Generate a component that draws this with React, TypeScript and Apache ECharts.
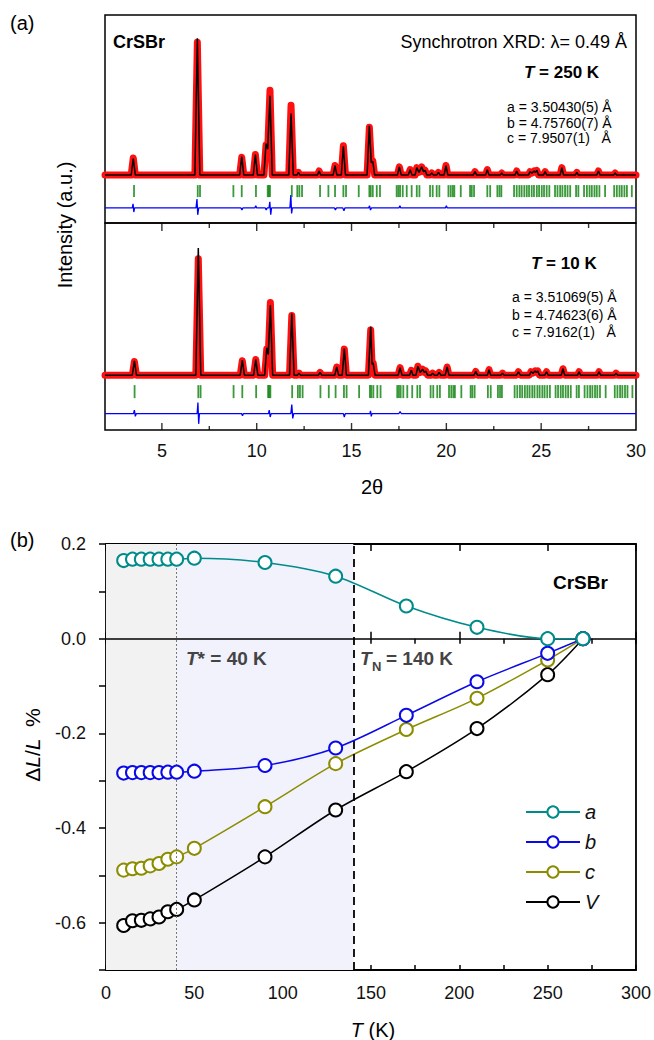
import React, { useEffect, useRef } from 'react';
import * as echarts from 'echarts';

const FONT = "'Liberation Sans', Arial, Helvetica, sans-serif";

// ---------- Panel (a): XRD profiles ----------
// 250 K profile vertices (2θ) with observed / calculated intensities (a.u.)
const x250 = [2,
  3.38, 3.49, 3.6,
  6.74, 6.87, 7.0,
  9.1, 9.21, 9.32,
  9.82, 9.93, 10.04,
  10.38, 10.49, 10.58, 10.70, 10.82,
  11.69, 11.81, 11.93,
  12.12, 12.2, 12.28,
  13.2, 13.29, 13.38,
  14.03, 14.13, 14.23,
  14.46, 14.57, 14.68,
  15.82, 15.94, 16.04, 16.12, 16.22,
  17.42, 17.52, 17.62,
  17.99, 18.09, 18.19,
  18.35, 18.44, 18.56, 18.70, 18.80, 18.88, 18.97,
  19.14, 19.23, 19.32,
  19.49, 19.58, 19.67,
  19.88, 19.98, 20.08,
  21.42, 21.51, 21.6,
  22.07, 22.16, 22.25,
  22.84, 22.92, 23.0,
  23.62, 23.71, 23.8,
  24.33, 24.41, 24.52, 24.63, 24.70, 24.77, 24.86,
  25.12, 25.21, 25.3,
  26.0, 26.09, 26.18,
  26.8, 26.88, 26.96,
  27.93, 28.02, 28.11,
  28.82, 28.90, 28.98,
  30];
const obs250 = [0,
  0, 12.5, 0,
  0, 97, 0,
  0, 13, 0,
  0, 15, 0,
  0, 22, 19, 62, 0,
  0, 51, 0,
  0, 2, 0,
  0, 3, 0,
  0, 7, 0,
  0, 21.5, 0,
  0, 35, 9, 10.5, 0,
  0, 6, 0,
  0, 4, 0,
  0, 5.5, 2, 6, 2.5, 3.5, 0,
  0, 1.5, 0,
  0, 2, 0,
  0, 7, 0,
  0, 2.5, 0,
  0, 4, 0,
  0, 1.5, 0,
  0, 3, 0,
  0, 2.5, 1.5, 3, 2, 3.5, 0,
  0, 2.5, 0,
  0, 5.5, 0,
  0, 2, 0,
  0, 3, 0,
  0, 1.5, 0,
  0];
const calc250 = [0,
  0, 12, 0,
  0, 100, 0,
  0, 13.5, 0,
  0, 15, 0,
  0, 23, 19, 58, 0,
  0, 45, 0,
  0, 2, 0,
  0, 3, 0,
  0, 7, 0,
  0, 21, 0,
  0, 36, 9, 10, 0,
  0, 6, 0,
  0, 4, 0,
  0, 5.5, 2, 6, 2.5, 3.5, 0,
  0, 1.5, 0,
  0, 2, 0,
  0, 7, 0,
  0, 2.5, 0,
  0, 4, 0,
  0, 1.5, 0,
  0, 3, 0,
  0, 2.5, 1.5, 3, 2, 3.5, 0,
  0, 2.5, 0,
  0, 5.5, 0,
  0, 2, 0,
  0, 3, 0,
  0, 1.5, 0,
  0];
const diffX250 = [2,
  3.44, 3.48, 3.52, 3.56,
  6.80, 6.85, 6.89, 6.94,
  9.17, 9.22, 9.27,
  9.9, 9.95, 10.0,
  10.45, 10.5, 10.55,
  10.65, 10.69, 10.74, 10.78,
  11.75, 11.80, 11.84, 11.88,
  14.1, 14.15, 14.2,
  14.54, 14.6, 14.65,
  15.9, 15.95, 16.0, 16.05,
  17.5, 17.55, 17.6,
  19.95, 20.0, 20.05,
  30];
const diffY250 = [-24,
  -24, -21, -27, -24,
  -24, -17.5, -29, -24,
  -24, -25.5, -24,
  -24, -22.5, -24,
  -24, -25.5, -24,
  -24, -19.5, -29, -24,
  -24, -14.5, -28, -24,
  -24, -25.5, -24,
  -24, -26, -24,
  -24, -22.5, -25.5, -24,
  -24, -22.5, -24,
  -24, -22.5, -24,
  -24];
const bragg250 = [3.53, 6.89, 7.01, 8.77, 9.21, 9.96, 10.58, 10.64, 10.70, 11.85, 12.14, 12.25, 12.39,
  13.34, 13.78, 14.13, 14.57, 14.71, 15.38, 15.94, 16.01, 16.12, 16.33, 16.50, 17.38, 17.47, 17.56,
  17.70, 17.91, 18.17, 18.44, 18.58, 19.14, 19.28, 19.49, 19.63, 20.11, 20.23, 20.34, 20.42, 20.76,
  21.25, 21.34, 21.46, 22.16, 22.31, 22.69, 22.80, 22.90, 23.57, 23.71, 23.85, 23.97, 24.11, 24.24,
  24.36, 24.50, 24.62, 24.77, 24.89, 25.03, 25.15, 25.29, 25.43, 25.73, 25.86, 26.00, 26.12, 26.26,
  26.39, 26.53, 26.84, 26.96, 27.26, 27.41, 27.55, 27.67, 27.81, 27.93, 28.07, 28.37, 28.85, 28.99,
  29.13, 29.25, 29.39, 29.52, 29.78];

// 10 K profile
const x10 = [2,
  3.44, 3.55, 3.66,
  6.79, 6.92, 7.05,
  9.13, 9.24, 9.35,
  9.84, 9.95, 10.06,
  10.42, 10.53, 10.61, 10.72, 10.84,
  11.73, 11.85, 11.97,
  12.15, 12.23, 12.31,
  13.25, 13.34, 13.43,
  14.12, 14.22, 14.32,
  14.51, 14.62, 14.73,
  15.89, 16.01, 16.08, 16.14, 16.24,
  17.46, 17.56, 17.66,
  18.06, 18.15, 18.24,
  18.40, 18.50, 18.62, 18.75, 18.84, 18.92, 19.01,
  19.19, 19.28, 19.37,
  19.53, 19.62, 19.71,
  19.94, 20.04, 20.14,
  21.46, 21.55, 21.64,
  22.16, 22.25, 22.34,
  22.88, 22.96, 23.04,
  23.7, 23.8, 23.9,
  24.38, 24.46, 24.57, 24.68, 24.75, 24.82, 24.91,
  25.19, 25.28, 25.37,
  26.06, 26.15, 26.24,
  26.92, 27.0, 27.08,
  27.96, 28.05, 28.14,
  28.86, 28.95, 29.03,
  30];
const obs10 = [0,
  0, 10, 0,
  0, 85, 0,
  0, 10.5, 0,
  0, 11.5, 0,
  0, 19, 15, 53, 0,
  0, 43.5, 0,
  0, 1.5, 0,
  0, 2, 0,
  0, 6, 0,
  0, 19, 0,
  0, 33, 8, 9, 0,
  0, 5.5, 0,
  0, 3.5, 0,
  0, 6.5, 2, 4.3, 2, 3, 0,
  0, 1.5, 0,
  0, 2, 0,
  0, 6, 0,
  0, 2.8, 0,
  0, 4, 0,
  0, 1.5, 0,
  0, 2.5, 0,
  0, 2.5, 1.5, 3, 2, 3, 0,
  0, 2.5, 0,
  0, 4.7, 0,
  0, 2.5, 0,
  0, 2.5, 0,
  0, 1.5, 0,
  0];
const calc10 = [0,
  0, 10.5, 0,
  0, 92.7, 0,
  0, 11, 0,
  0, 11.5, 0,
  0, 20, 15, 51, 0,
  0, 45, 0,
  0, 1.5, 0,
  0, 2, 0,
  0, 6, 0,
  0, 19.5, 0,
  0, 35.5, 8, 9, 0,
  0, 5.5, 0,
  0, 3.5, 0,
  0, 6.5, 2, 4.3, 2, 3, 0,
  0, 1.5, 0,
  0, 2, 0,
  0, 6, 0,
  0, 2.8, 0,
  0, 4, 0,
  0, 1.5, 0,
  0, 2.5, 0,
  0, 2.5, 1.5, 3, 2, 3, 0,
  0, 2.5, 0,
  0, 4.7, 0,
  0, 2.5, 0,
  0, 2.5, 0,
  0, 1.5, 0,
  0];
const diffX10 = [2,
  3.5, 3.55, 3.6, 3.65,
  6.86, 6.9, 6.94, 6.98,
  9.2, 9.25, 9.3,
  10.62, 10.66, 10.71, 10.76,
  11.8, 11.85, 11.9, 11.95,
  14.57, 14.62, 14.67,
  15.97, 16.0, 16.04, 16.08,
  17.5, 17.56, 17.62,
  30];
const diffY10 = [-28,
  -28, -25.5, -30, -28,
  -28, -20, -35.5, -28,
  -28, -29.5, -28,
  -28, -25.5, -30.5, -28,
  -28, -21.5, -31.5, -28,
  -28, -30.5, -28,
  -28, -26, -30, -28,
  -28, -26.5, -28,
  -28];
const bragg10 = [3.56, 6.92, 7.04, 8.78, 9.24, 9.97, 10.6, 10.66, 10.72, 11.87, 12.17, 12.28, 12.42,
  13.36, 13.8, 14.16, 14.6, 14.74, 15.4, 15.97, 16.04, 16.15, 16.36, 16.53, 17.41, 17.5, 17.59,
  17.73, 17.94, 18.2, 18.47, 18.61, 19.17, 19.31, 19.52, 19.66, 20.14, 20.26, 20.37, 20.45, 20.79,
  21.28, 21.37, 21.49, 22.19, 22.34, 22.72, 22.83, 22.93, 23.6, 23.74, 23.88, 24.0, 24.14, 24.27,
  24.39, 24.53, 24.65, 24.8, 24.92, 25.06, 25.18, 25.32, 25.46, 25.76, 25.89, 26.03, 26.15, 26.29,
  26.42, 26.56, 26.87, 26.99, 27.29, 27.44, 27.58, 27.7, 27.84, 27.96, 28.1, 28.4, 28.88, 29.02,
  29.16, 29.28, 29.42, 29.55, 29.81];

// 2θ axis tick values
const xMajorA = [5, 10, 15, 20, 25];
const xMinorA = [7.5, 12.5, 17.5, 22.5, 27.5];
const xLabelsA = ['5', '10', '15', '20', '25', '30'];
// label slots along 2θ = 2 … 30 (every 0.5°), used only to place the tick labels
const labelSlotsA = Array.from({ length: 57 }, (_, i) => String(2 + i * 0.5));

// ---------- Panel (b): thermal expansion ----------
const temps = [10, 15, 20, 25, 30, 35, 40, 50, 90, 130, 170, 210, 250, 270];
const aVals = [0.165, 0.168, 0.168, 0.168, 0.168, 0.168, 0.168, 0.170, 0.161, 0.132, 0.069, 0.024, 0.0, 0.0];
const bVals = [-0.284, -0.283, -0.283, -0.283, -0.283, -0.282, -0.282, -0.280, -0.268, -0.231, -0.162, -0.091, -0.031, 0.0];
const cVals = [-0.489, -0.486, -0.485, -0.480, -0.475, -0.466, -0.461, -0.443, -0.355, -0.264, -0.192, -0.126, -0.045, 0.0];
const vVals = [-0.606, -0.596, -0.595, -0.592, -0.588, -0.577, -0.572, -0.552, -0.461, -0.362, -0.281, -0.190, -0.076, 0.0];
const tStar = 40;
const tNeel = 140;

const Y10_MIN = -40;
const Y10_MAX = 111;

const pairs = (xs: number[], ys: number[]) => xs.map((x, i) => [x, ys[i]]);

function txt(x: number, y: number, text: string, o: any = {}) {
  const { align = 'left', size = 18, weight = 'normal', style = 'normal', fill = '#000', rich, rotation } = o;
  const el: any = {
    type: 'text', x, y, z: 100,
    style: {
      text, fill, fontFamily: FONT, fontSize: size, fontWeight: weight, fontStyle: style,
      align, textAlign: align, verticalAlign: 'middle', textVerticalAlign: 'middle', rich,
    },
  };
  if (rotation !== undefined) el.rotation = rotation;
  return el;
}

function buildOption() {
  const hiddenX = (gridIndex: number) => ({ type: 'value', gridIndex, min: 2, max: 30, show: false });

  const profile = (xi: number, yi: number, xs: number[], obs: number[], calc: number[], dx: number[], dy: number[], bragg: number[], bY: number, bH: number) => [
    {
      type: 'line', xAxisIndex: xi, yAxisIndex: yi, data: pairs(xs, obs), symbol: 'none', silent: true, z: 2,
      lineStyle: { color: '#ff1010', width: 7, cap: 'round', join: 'round' },
    },
    {
      type: 'line', xAxisIndex: xi, yAxisIndex: yi, data: pairs(xs, calc), symbol: 'none', silent: true, z: 3,
      lineStyle: { color: '#000', width: 1.5 },
    },
    {
      type: 'scatter', xAxisIndex: xi, yAxisIndex: yi, data: bragg.map((b) => [b, bY]), silent: true, z: 2,
      symbol: 'rect', symbolSize: [1.8, bH], itemStyle: { color: '#0a800a' },
    },
    {
      type: 'line', xAxisIndex: xi, yAxisIndex: yi, data: pairs(dx, dy), symbol: 'none', silent: true, z: 2,
      lineStyle: { color: '#0000ff', width: 1.3 },
    },
  ];

  // tick marks of the 2θ axes (bottom edge and the divider between the two patterns)
  const tickMarks = (values: number[], yEdge: number, len: number, dir: number) => ({
    type: 'scatter', xAxisIndex: 5, yAxisIndex: 1, silent: true, z: 4, clip: false,
    data: values.map((v) => [v, yEdge]),
    symbol: 'rect', symbolSize: [1.4, len], symbolOffset: [0, dir * len / 2],
    itemStyle: { color: '#000' },
  });

  const latSeries = (name: string, vals: number[], color: string, z: number) => ({
    name, type: 'line', xAxisIndex: 2, yAxisIndex: 2, data: pairs(temps, vals), z,
    smooth: 0.3, color,
    symbol: 'circle', symbolSize: 13,
    itemStyle: { color: '#fff', borderColor: color, borderWidth: 2 },
    lineStyle: { color, width: 1.5 },
  });

  const bAxis = (position: string, interval: number, len: number, labels: boolean) => ({
    type: 'value', gridIndex: 2, position, min: 0, max: 300, interval,
    axisLine: { show: false }, splitLine: { show: false },
    axisTick: { inside: true, length: len, lineStyle: { color: '#000', width: 1.5 } },
    axisLabel: labels ? { fontSize: 18, color: '#111', fontFamily: FONT, margin: 14 } : { show: false },
  });

  return {
    animation: false,
    backgroundColor: '#fff',
    grid: [
      { left: 105, top: 15, width: 531, height: 208, show: true, borderColor: '#000', borderWidth: 1.5, backgroundColor: 'transparent' },
      { left: 105, top: 223, width: 531, height: 207, show: true, borderColor: '#000', borderWidth: 1.5, backgroundColor: 'transparent' },
      { left: 106, top: 544, width: 532, height: 426, show: true, borderColor: '#000', borderWidth: 1.8, backgroundColor: 'transparent' },
    ],
    xAxis: [
      hiddenX(0),
      // 2θ tick labels (category slots every 0.5°, only 5, 10, … shown)
      {
        type: 'category', gridIndex: 1, position: 'bottom', data: labelSlotsA, boundaryGap: false,
        axisLine: { show: false, onZero: false }, splitLine: { show: false }, axisTick: { show: false },
        axisLabel: {
          fontSize: 18, color: '#111', fontFamily: FONT, margin: 12,
          interval: (_i: number, v: string) => xLabelsA.includes(v),
        },
      },
      bAxis('bottom', 50, 7, true),
      bAxis('top', 25, 5, false),
      bAxis('bottom', 25, 5, false),
      { ...hiddenX(1), axisLine: { onZero: false } },
      bAxis('top', 50, 7, false),
    ],
    yAxis: [
      { type: 'value', gridIndex: 0, min: -35, max: 117, show: false },
      { type: 'value', gridIndex: 1, min: Y10_MIN, max: Y10_MAX, show: false },
      {
        type: 'value', gridIndex: 2, position: 'left', min: -0.7, max: 0.2, interval: 0.1,
        axisLine: { show: false }, splitLine: { show: false },
        axisTick: { inside: true, length: 7, lineStyle: { color: '#000', width: 1.5 } },
        axisLabel: {
          fontSize: 18, color: '#111', fontFamily: FONT, margin: 20,
          formatter: (v: number) => (Math.round(v * 10) % 2 === 0 ? (Math.abs(v) < 1e-9 ? '0.0' : v.toFixed(1)) : ''),
        },
      },
      {
        type: 'value', gridIndex: 2, position: 'right', min: -0.7, max: 0.2, interval: 0.1,
        axisLine: { show: false }, splitLine: { show: false },
        axisTick: { inside: true, length: 7, lineStyle: { color: '#000', width: 1.5 } },
        axisLabel: { show: false },
      },
    ],
    legend: {
      data: ['a', 'b', 'c', 'V'],
      orient: 'vertical', left: 520, top: 797,
      itemWidth: 54, itemHeight: 14, itemGap: 10,
      textStyle: { fontSize: 20, fontStyle: 'italic', fontFamily: FONT, color: '#111', lineHeight: 20 },
      selectedMode: false,
    },
    series: [
      ...profile(0, 0, x250, obs250, calc250, diffX250, diffY250, bragg250, -11.7, 12),
      ...profile(5, 1, x10, obs10, calc10, diffX10, diffY10, bragg10, -12, 13),
      tickMarks(xMajorA, Y10_MIN, 7, -1),
      tickMarks(xMinorA, Y10_MIN, 4, -1),
      tickMarks(xMajorA, Y10_MAX, 8, 1),
      tickMarks(xMinorA, Y10_MAX, 5, 1),
      {
        name: 'bg', type: 'line', xAxisIndex: 2, yAxisIndex: 2, data: [[-10, -10]], symbol: 'none', z: 1, silent: true,
        markArea: {
          silent: true,
          data: [
            [{ xAxis: 0, itemStyle: { color: '#f2f2f2' } }, { xAxis: tStar }],
            [{ xAxis: tStar, itemStyle: { color: '#f2f2fd' } }, { xAxis: tNeel }],
          ],
        },
        markLine: {
          silent: true, symbol: ['none', 'none'], label: { show: false },
          data: [
            { xAxis: tStar, lineStyle: { color: '#777', type: [2, 2], width: 1 } },
            { xAxis: tNeel, lineStyle: { color: '#000', type: [8, 5], width: 1.8 } },
            { yAxis: 0, lineStyle: { color: '#000', type: 'solid', width: 1.5 } },
          ],
        },
      },
      latSeries('V', vVals, '#000000', 3),
      latSeries('c', cVals, '#8c8c00', 4),
      latSeries('b', bVals, '#0a0ae6', 5),
      latSeries('a', aVals, '#008b8b', 6),
    ],
    graphic: [
      txt(10, 23, '(a)', { size: 20 }),
      txt(10, 540, '(b)', { size: 20 }),
      txt(113, 42, 'CrSBr', { size: 18, weight: 'bold' }),
      txt(627, 42, 'Synchrotron XRD: λ= 0.49 Å', { size: 18, align: 'right' }),
      txt(524, 72, '{i|T}{n| = 250 K}', {
        size: 17, weight: 'bold',
        rich: { i: { fontStyle: 'italic', fontWeight: 'bold', fontSize: 17, fontFamily: FONT }, n: { fontWeight: 'bold', fontSize: 17, fontFamily: FONT } },
      }),
      txt(507, 107, 'a = 3.50430(5) Å', { size: 14 }),
      txt(507, 122.5, 'b = 4.75760(7) Å', { size: 14 }),
      txt(507, 138, 'c = 7.9507(1)   Å', { size: 14 }),
      txt(531, 263, '{i|T}{n| = 10 K}', {
        size: 17, weight: 'bold',
        rich: { i: { fontStyle: 'italic', fontWeight: 'bold', fontSize: 17, fontFamily: FONT }, n: { fontWeight: 'bold', fontSize: 17, fontFamily: FONT } },
      }),
      txt(512, 297, 'a = 3.51069(5) Å', { size: 14 }),
      txt(512, 314.5, 'b = 4.74623(6) Å', { size: 14 }),
      txt(512, 332, 'c = 7.9162(1)   Å', { size: 14 }),
      txt(65, 225, 'Intensity (a.u.)', { size: 20, align: 'center', rotation: Math.PI / 2 }),
      txt(372, 487, '2θ', { size: 20, align: 'center' }),
      txt(553, 582, 'CrSBr', { size: 19, weight: 'bold' }),
      txt(186, 658, '{i|T}{n|* = 40 K}', {
        size: 19, weight: 'bold', fill: '#444',
        rich: { i: { fontStyle: 'italic', fontWeight: 'bold', fontSize: 19, fill: '#444', fontFamily: FONT }, n: { fontWeight: 'bold', fontSize: 19, fill: '#444', fontFamily: FONT } },
      }),
      txt(360, 658, 'T', { size: 19, weight: 'bold', style: 'italic', fill: '#444' }),
      txt(372, 666, 'N', { size: 13, weight: 'bold', fill: '#444' }),
      txt(386, 658, '= 140 K', { size: 19, weight: 'bold', fill: '#444' }),
      txt(32, 745, '{n|Δ}{i|L}{n|/}{i|L}{n|  %}', {
        size: 21, align: 'center', rotation: Math.PI / 2,
        rich: { i: { fontStyle: 'italic', fontSize: 21, fontFamily: FONT }, n: { fontSize: 21, fontFamily: FONT } },
      }),
      txt(373, 1030, '{i|T}{n| (K)}', {
        size: 20, align: 'center',
        rich: { i: { fontStyle: 'italic', fontSize: 20, fontFamily: FONT }, n: { fontSize: 20, fontFamily: FONT } },
      }),
    ],
  };
}

export default function App() {
  const ref = useRef<HTMLDivElement>(null);
  useEffect(() => {
    document.body.style.margin = '0';
    const chart = echarts.init(ref.current!, null, { renderer: 'svg' });
    chart.setOption(buildOption() as any);
    return () => chart.dispose();
  }, []);
  return <div ref={ref} style={{ width: 654, height: 1040 }} />;
}
